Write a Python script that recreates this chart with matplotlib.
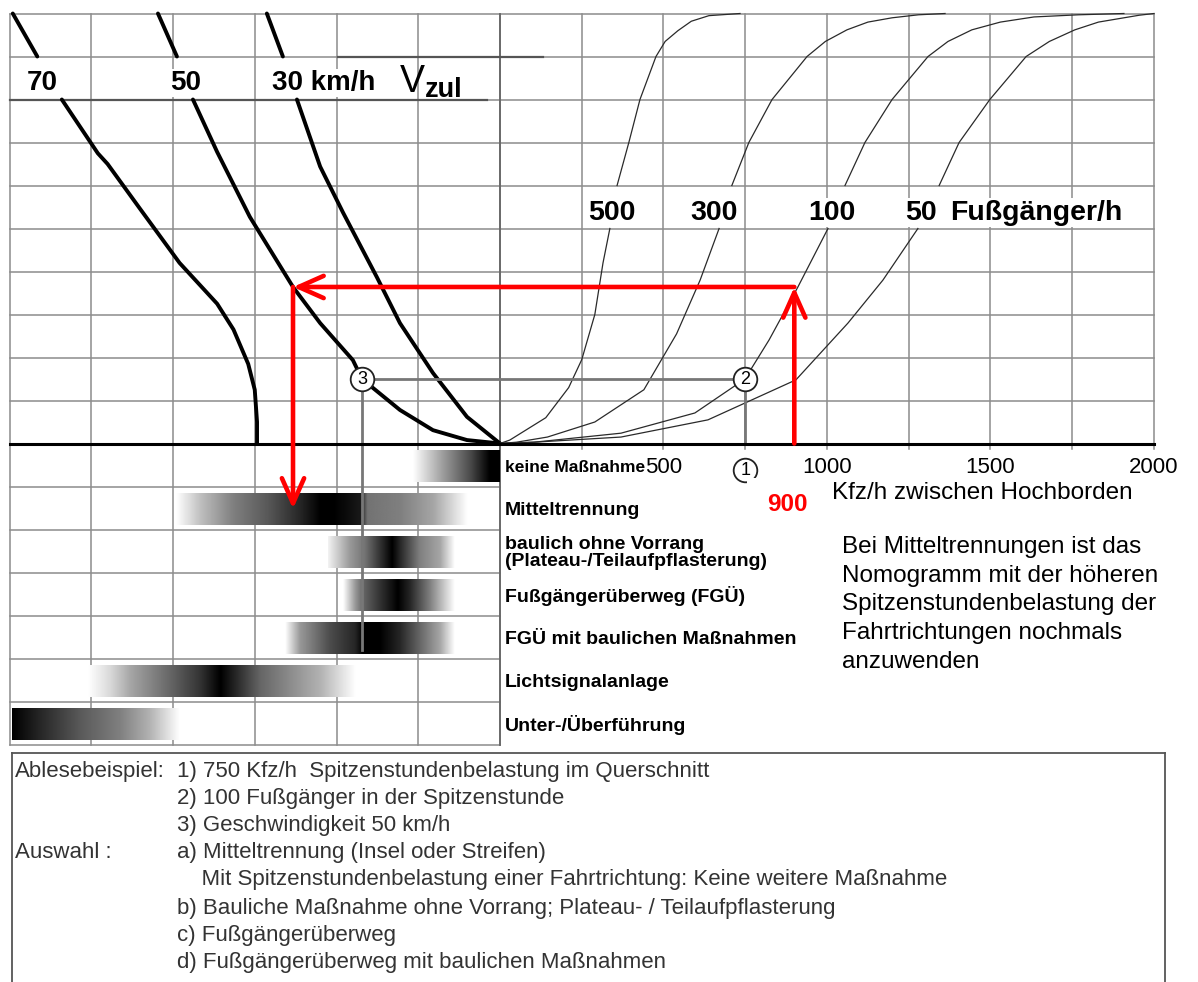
import numpy as np
import matplotlib.pyplot as plt
from matplotlib.patches import Rectangle

plt.rcParams['font.family'] = ['Liberation Sans', 'DejaVu Sans']

# --- speed curves (left), x on the Kfz/h scale, y in grid rows ---
v70_x = [-1490, -1415, -1340, -1230, -1200, -1100, -980, -865, -815, -770, -750, -743, -743]
v70_y = [10, 9, 8, 6.75, 6.5, 5.45, 4.2, 3.25, 2.65, 1.85, 1.25, 0.5, 0]
v50_x = [-1046, -988, -939, -865, -765, -633, -550, -450, -422, -306, -205, -101, 0]
v50_y = [10, 9, 8, 6.78, 5.27, 3.64, 2.8, 1.94, 1.5, 0.78, 0.31, 0.08, 0]
v30_x = [-713, -664, -621, -550, -480, -376, -306, -205, -101, 0]
v30_y = [10, 9, 8, 6.44, 5.37, 3.86, 2.8, 1.64, 0.62, 0]
speed_labels = ['70', '50', '30 km/h']

# --- pedestrian curves (right) ---
p500_x = [0, 30, 140, 210, 250, 290, 315, 336, 358, 394, 428, 477, 505, 544, 585, 639, 734]
p500_y = [0, 0.08, 0.6, 1.3, 1.95, 3.0, 4.2, 5.0, 6.0, 7.0, 8.0, 9.0, 9.35, 9.6, 9.82, 9.95, 10]
p300_x = [0, 50, 145, 290, 440, 540, 612, 670, 709, 761, 832, 939, 995, 1061, 1125, 1199, 1280, 1361]
p300_y = [0, 0.03, 0.15, 0.5, 1.25, 2.55, 3.8, 5.0, 6.0, 7.0, 8.0, 9.0, 9.35, 9.62, 9.8, 9.9, 9.97, 10]
p100_x = [0, 104, 370, 596, 749, 823, 911, 1003, 1055, 1116, 1199, 1309, 1370, 1443, 1530, 1633, 1770, 1908]
p100_y = [0, 0.03, 0.24, 0.71, 1.5, 2.41, 3.64, 5.0, 6.0, 7.0, 8.0, 9.0, 9.35, 9.62, 9.8, 9.92, 9.97, 10]
p50_x = [0, 104, 370, 636, 905, 1064, 1171, 1278, 1343, 1404, 1498, 1609, 1680, 1758, 1830, 1908, 1955, 2000]
p50_y = [0, 0.03, 0.15, 0.55, 1.48, 2.8, 3.8, 5.0, 6.0, 7.0, 8.0, 9.0, 9.35, 9.62, 9.8, 9.9, 9.96, 10]
ped_labels = ['500', '300', '100', '50']

kfz_ticks = [500, 1000, 1500, 2000]

# --- measures table: name, darkness profile (x, darkness 0..1) ---
measures = ['keine Maßnahme', 'Mitteltrennung',
            'baulich ohne Vorrang\n(Plateau-/Teilaufpflasterung)',
            'Fußgängerüberweg (FGÜ)', 'FGÜ mit baulichen Maßnahmen',
            'Lichtsignalanlage', 'Unter-/Überführung']
bar_x = [
    [-266, -183, -92, -31, 0],
    [-991, -917, -817, -713, -612, -550, -511, -428, -407, -306, -205, -101],
    [-526, -459, -413, -367, -330, -306, -245, -183, -138],
    [-480, -443, -419, -367, -312, -275, -214, -138],
    [-657, -612, -520, -443, -419, -367, -306, -245, -183, -138],
    [-1260, -1193, -1131, -1009, -917, -856, -810, -734, -642, -550, -443],
    [-1492, -1407, -1284, -1162, -1070, -979],
]
bar_d = [
    [0.0, 0.35, 0.7, 1.0, 1.0],
    [0.0, 0.25, 0.5, 0.65, 0.85, 1.0, 1.0, 0.9, 0.55, 0.5, 0.35, 0.0],
    [0.05, 0.4, 0.55, 0.8, 1.0, 0.85, 0.5, 0.35, 0.0],
    [0.0, 0.4, 0.6, 0.8, 1.0, 0.85, 0.5, 0.0],
    [0.0, 0.4, 0.7, 0.85, 1.0, 1.0, 0.85, 0.6, 0.35, 0.0],
    [0.0, 0.15, 0.35, 0.6, 0.8, 1.0, 0.85, 0.6, 0.45, 0.3, 0.0],
    [1.0, 0.85, 0.65, 0.5, 0.3, 0.0],
]

# reading example
ex_kfz = 750          # 1)
ex_row = 1.5          # 2) / 3)
ex_v50 = -422
ex_drop = -4.8
red_kfz = 900
red_row = 3.64
red_v50 = -633
red_end = -1.52

footnote = [
    ('Ablesebeispiel:', '1) 750 Kfz/h  Spitzenstundenbelastung im Querschnitt'),
    ('', '2) 100 Fußgänger in der Spitzenstunde'),
    ('', '3) Geschwindigkeit 50 km/h'),
    ('Auswahl :', 'a) Mitteltrennung (Insel oder Streifen)'),
    ('', '    Mit Spitzenstundenbelastung einer Fahrtrichtung: Keine weitere Maßnahme'),
    ('', 'b) Bauliche Maßnahme ohne Vorrang; Plateau- / Teilaufpflasterung'),
    ('', 'c) Fußgängerüberweg'),
    ('', 'd) Fußgängerüberweg mit baulichen Maßnahmen'),
]
note_lines = ['Bei Mitteltrennungen ist das', 'Nomogramm mit der höheren',
              'Spitzenstundenbelastung der', 'Fahrtrichtungen nochmals', 'anzuwenden']

# pixel calibration of the sheet
W, H = 1198, 982
PX, X0, Y0, ROW = 0.327, 500, 443.5, 43.0

fig = plt.figure(figsize=(W / 100, H / 100), dpi=100)
ax = fig.add_axes([0, 0, 1, 1])
ax.axis('off')

grid_c = '#8c8c8c'
# grid, upper part
for gx in np.arange(-1500, 2001, 250):
    ax.plot([gx, gx], [0, 10], color=grid_c, lw=1.1, zorder=1)
for gy in range(1, 11):
    ax.plot([-1500, 2000], [gy, gy], color=grid_c, lw=1.1, zorder=1)
# grid, table
for gx in np.arange(-1500, 1, 250):
    ax.plot([gx, gx], [-7, 0], color=grid_c, lw=1.1, zorder=1)
for gy in range(-7, 0):
    ax.plot([-1500, 0], [gy, gy], color=grid_c, lw=1.1, zorder=1)
ax.plot([0, 0], [-7, 10], color='#666666', lw=1.3, zorder=1)
ax.plot([-495, 131], [9, 9], color='#555555', lw=1.6, zorder=1)
ax.plot([-1500, -40], [8, 8], color='#555555', lw=1.6, zorder=1)
ax.plot([-1500, 2000], [0, 0], color='black', lw=2.2, zorder=6)
for gx in np.arange(250, 2001, 250):
    ax.plot([gx, gx], [0, -0.12], color=grid_c, lw=1.1, zorder=1)


def split_plot(x, y, lo, hi, **kw):
    x, y = np.asarray(x), np.asarray(y)
    ax.plot(x[y <= lo], y[y <= lo], **kw)
    ax.plot(x[y >= hi], y[y >= hi], **kw)


for cx, cy in [(v70_x, v70_y), (v50_x, v50_y), (v30_x, v30_y)]:
    split_plot(cx, cy, 8, 9, color='black', lw=2.8, zorder=4,
               solid_capstyle='round', solid_joinstyle='round')
for cx, cy in [(p500_x, p500_y), (p300_x, p300_y), (p100_x, p100_y), (p50_x, p50_y)]:
    split_plot(cx, cy, 5, 6, color='#2a2a2a', lw=0.9, zorder=4)

# gradient bars
for i, (bx, bd) in enumerate(zip(bar_x, bar_d)):
    xs = np.linspace(bx[0], bx[-1], 400)
    img = 1 - np.interp(xs, bx, bd)
    yc = -(i + 0.5) - 0.03
    ax.imshow(img[None, :], extent=[bx[0], bx[-1], yc - 0.37, yc + 0.37],
              aspect='auto', cmap='gray', vmin=0, vmax=1, zorder=2,
              interpolation='bilinear')

# grey reading lines and circles
gc = '#777777'
ax.plot([ex_v50, ex_kfz], [ex_row, ex_row], color=gc, lw=2, zorder=5)
ax.plot([ex_kfz, ex_kfz], [0, ex_row], color=gc, lw=2, zorder=5)
ax.plot([ex_v50, ex_v50], [ex_drop, ex_row], color=gc, lw=2, zorder=5)
for (cx, cy, t) in [(ex_kfz, -0.62, '1'), (ex_kfz, ex_row, '2'), (ex_v50, ex_row, '3')]:
    ax.plot(cx, cy, 'o', ms=17, mfc='white', mec='#222222', mew=1.3, zorder=7)
    ax.text(cx, cy, t, ha='center', va='center', fontsize=13, zorder=8)
ax.add_patch(Rectangle((755, -1.8), 245, 1.0, facecolor='white',
                       edgecolor='none', zorder=9))

# red example path
arrow = dict(arrowstyle='->,head_length=0.9,head_width=0.4', color='red',
             lw=3.3, mutation_scale=20, shrinkA=0, shrinkB=0)
ax.annotate('', xy=(red_kfz, red_row), xytext=(red_kfz, 0), arrowprops=arrow, zorder=10)
ax.annotate('', xy=(red_v50, red_row), xytext=(red_kfz, red_row), arrowprops=arrow, zorder=10)
ax.annotate('', xy=(red_v50, red_end), xytext=(red_v50, red_row), arrowprops=arrow, zorder=10)
ax.text(red_kfz - 20, -1.43, '900', color='red', fontsize=17.5, fontweight='bold',
        ha='center', va='center', zorder=11)

# labels
wb = dict(facecolor='white', edgecolor='none', pad=1)
for lx, t in zip([-1446, -1009, -697], speed_labels):
    ax.text(lx, 8.22, t, fontsize=20, fontweight='bold', ha='left',
            va='baseline', bbox=wb, zorder=6)
ax.text(-306, 8.17, 'V', fontsize=27, ha='left', va='baseline', zorder=6)
ax.text(-229, 8.06, 'zul', fontsize=19.5, fontweight='bold', ha='left',
        va='baseline', zorder=6)
for lx, t in zip([269, 581, 942, 1239], ped_labels):
    ax.text(lx, 5.2, t, fontsize=20.5, fontweight='bold', ha='left',
            va='baseline', bbox=wb, zorder=6)
ax.text(1376, 5.2, 'Fußgänger/h', fontsize=20.5, fontweight='bold', ha='left',
        va='baseline', bbox=wb, zorder=6)

for v in kfz_ticks:
    ax.text(v, -0.55, str(v), fontsize=16, ha='center', va='center', zorder=6)
ax.text(1015, -1.15, 'Kfz/h zwischen Hochborden', fontsize=17.5, ha='left',
        va='center', zorder=10)
for k, t in enumerate(note_lines):
    ax.text(1046, -2.4 - k * 0.67, t, fontsize=17.5, ha='left', va='center', zorder=6)

for i, t in enumerate(measures):
    fs = {0: 12.5, 2: 14}.get(i, 14)
    ax.text(15, -(i + 0.5) - 0.05, t, fontsize=fs, fontweight='bold', ha='left',
            va='center', linespacing=1.0, zorder=6)

# footnote box
ax.plot([-1492, 2034], [-7.2, -7.2], color='#555555', lw=1.3)
ax.plot([-1492, -1492], [-7.2, -13], color='#555555', lw=1.3)
ax.plot([2034, 2034], [-7.2, -13], color='#555555', lw=1.3)
for k, (a, b) in enumerate(footnote):
    yy = 772 + k * 26.9 + (2 if k >= 5 else 0)
    if a:
        fig.text(15 / W, 1 - yy / H, a, fontsize=16, color='#333333', va='center')
    fig.text(177 / W, 1 - yy / H, b, fontsize=16, color='#333333', va='center')

ax.set_xlim(-X0 / PX, (W - X0) / PX)
ax.set_ylim(-(H - Y0) / ROW, Y0 / ROW)

fig.savefig('out.png', dpi=100)
